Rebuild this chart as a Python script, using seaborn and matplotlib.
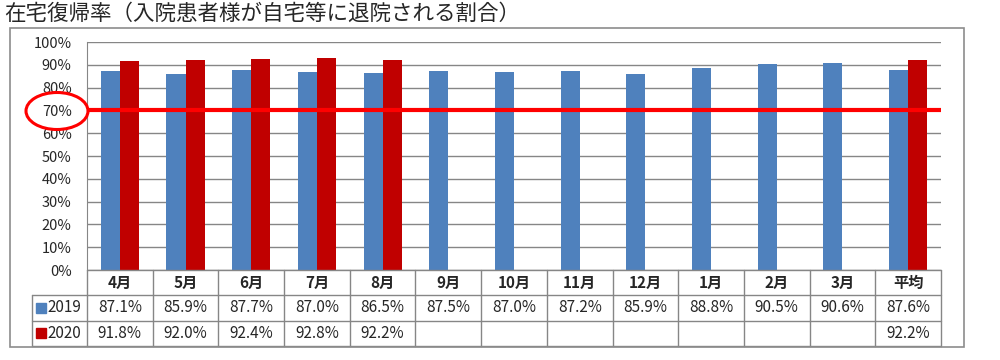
import numpy as np
import pandas as pd
import seaborn as sns
import matplotlib.pyplot as plt
from matplotlib.patches import Ellipse, Rectangle
from matplotlib.ticker import PercentFormatter

# data
months = ["4月", "5月", "6月", "7月", "8月", "9月", "10月", "11月", "12月", "1月", "2月", "3月", "平均"]
rate_2019 = [87.1, 85.9, 87.7, 87.0, 86.5, 87.5, 87.0, 87.2, 85.9, 88.8, 90.5, 90.6, 87.6]
rate_2020 = [91.8, 92.0, 92.4, 92.8, 92.2, None, None, None, None, None, None, None, 92.2]
years = ["2019", "2020"]
target = 70

colors = {"2019": "#4F81BD", "2020": "#C00000"}
grid_c = "#868686"

df = pd.DataFrame({
    "month": months * 2,
    "year": ["2019"] * len(months) + ["2020"] * len(months),
    "rate": [v / 100 for v in rate_2019] + [np.nan if v is None else v / 100 for v in rate_2020],
})

sns.set_style("white")
plt.rcParams['font.family'] = ['Noto Sans CJK JP', 'DejaVu Sans']

fig = plt.figure(figsize=(10, 3.6), dpi=100)
W, H = 1000, 360

def fx(px):
    return px / W

def fy(py):
    return 1 - py / H

# outer frame
fig.patches.append(Rectangle((fx(10), fy(347)), fx(954), (347 - 28) / H, transform=fig.transFigure,
                             fill=False, edgecolor="#8C8C8C", lw=1.2))

fig.text(fx(4), fy(14), "在宅復帰率（入院患者様が自宅等に退院される割合）", fontsize=15.5, va="center", ha="left")

# bar chart
ax = fig.add_axes([fx(87), fy(270), fx(941 - 87), (270 - 42) / H])
sns.barplot(data=df, x="month", y="rate", hue="year", order=months, hue_order=years,
            palette=colors, width=0.58, saturation=1, linewidth=0, ax=ax, legend=False, errorbar=None)
ax.set_xlim(-0.5, len(months) - 0.5)
ax.set_ylim(0, 1)
ax.set_yticks(np.arange(0, 1.01, 0.1))
ax.yaxis.set_major_formatter(PercentFormatter(1, decimals=0))
ax.tick_params(axis="y", length=0, pad=11, labelsize=10.5)
ax.set_xticks([])
ax.set_xlabel("")
ax.set_ylabel("")
ax.grid(axis="y", color=grid_c, lw=1)
ax.set_axisbelow(True)
for s in ["top", "right", "bottom"]:
    ax.spines[s].set_visible(False)
ax.spines["left"].set_color(grid_c)
ax.axhline(target / 100, color="#FF0000", lw=3, zorder=5)

# circle around the 70% label
fig.patches.append(Ellipse((fx(57), fy(111)), fx(62), 37 / H, transform=fig.transFigure,
                           fill=False, edgecolor="#FF0000", lw=2.2))

# data table below the chart
n = len(months)
cat_w = (941 - 87) / n
x0 = -0.5 - (87 - 32) / cat_w
tax = fig.add_axes([fx(32), fy(346), fx(941 - 32), (346 - 270) / H])
tax.set_xlim(x0, n - 0.5)
tax.set_ylim(0, 3)
tax.axis("off")

lw = 1
for yv in [0, 1, 2]:
    tax.plot([x0, n - 0.5], [yv, yv], color=grid_c, lw=lw, clip_on=False)
tax.plot([-0.5, n - 0.5], [3, 3], color=grid_c, lw=lw, clip_on=False)
for i in range(n + 1):
    tax.plot([i - 0.5, i - 0.5], [0, 3], color=grid_c, lw=lw, clip_on=False)
tax.plot([x0, x0], [0, 2], color=grid_c, lw=lw, clip_on=False)

for i, m in enumerate(months):
    tax.text(i, 2.5, m, ha="center", va="center", fontsize=11, fontweight="bold")
    tax.text(i, 1.5, f"{rate_2019[i]:.1f}%", ha="center", va="center", fontsize=11)
    if rate_2020[i] is not None:
        tax.text(i, 0.5, f"{rate_2020[i]:.1f}%", ha="center", va="center", fontsize=11)

for row, yr in zip([1.5, 0.5], years):
    tax.plot([x0 + 0.13], [row], marker="s", ms=7, color=colors[yr], clip_on=False)
    tax.text(x0 + 0.24, row, yr, ha="left", va="center", fontsize=11)

fig.savefig("out.png", dpi=100)
